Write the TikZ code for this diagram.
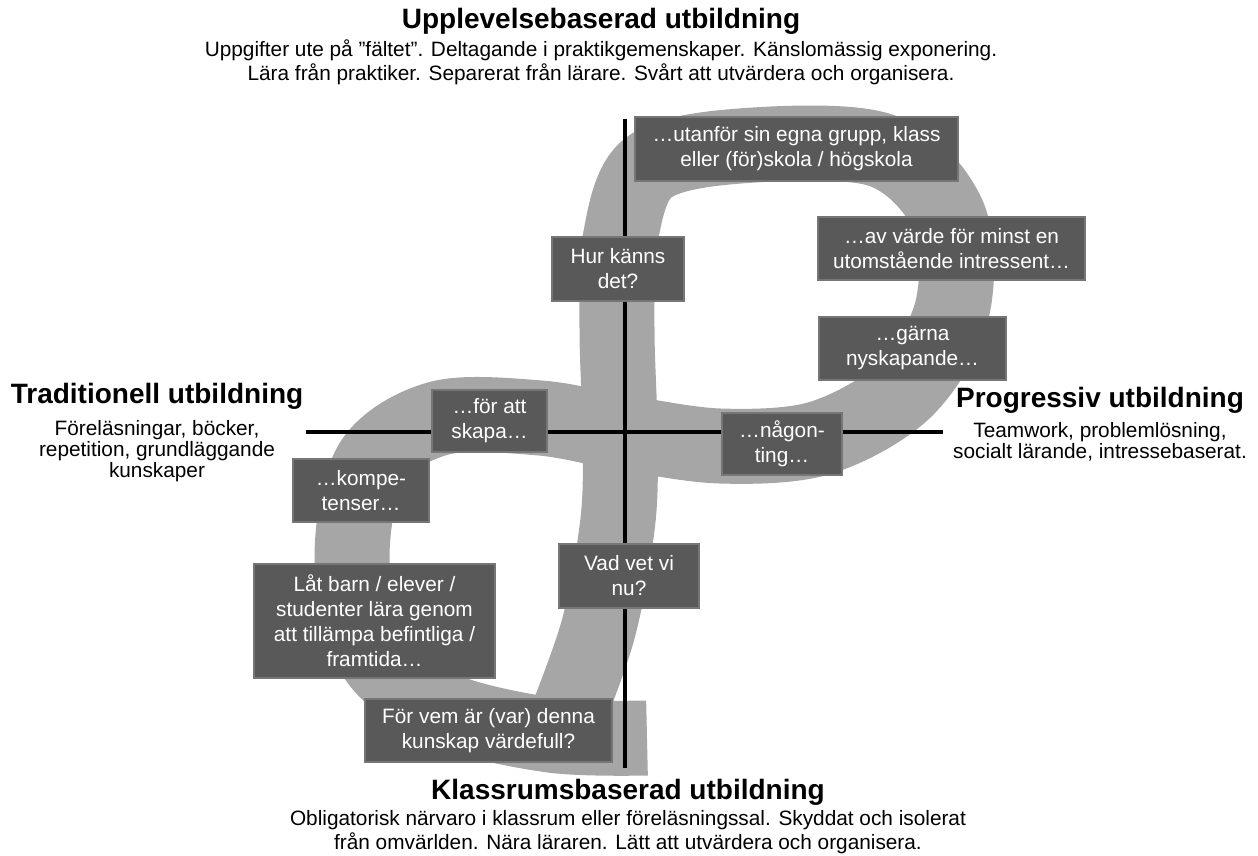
\documentclass[tikz,border=0pt]{standalone}
\usepackage{fontspec}
\setmainfont{Liberation Sans}
\definecolor{ribbongray}{HTML}{A6A6A6}
\definecolor{boxgray}{HTML}{595959}
\definecolor{boxedge}{HTML}{767676}
\begin{document}
\begin{tikzpicture}[x=0.5pt,y=-0.5pt,
  ribbon/.style={draw=ribbongray, line width=37.5pt, line cap=butt, line join=round},
  axis/.style={draw=black, line width=1.8pt},
  tbox/.style={fill=boxgray, draw=boxedge, line width=0.6pt, text=white, align=center,
    inner sep=0pt, font=\fontsize{10.4}{12.5}\selectfont},
  ttl/.style={inner sep=0pt, font=\fontsize{14}{16}\selectfont\bfseries},
  dsc/.style={inner sep=0pt, align=center, font=\fontsize{10.4}{12}\selectfont},
  dscs/.style={inner sep=0pt, align=center, font=\fontsize{10.4}{10.4}\selectfont}
]
\useasboundingbox (0,0) rectangle (1258,856);

% grey ribbon
\draw[ribbon] plot[smooth, tension=0.55] coordinates {
  (560,735) (598,630) (618,520) (620,432) (617,330) (620,240) (648,168)
  (740,146) (880,150) (948,215) (952,310) (905,390) (820,438) (720,446)
  (620,432) (540,418) (440,418) (372,462) (352,557) (372,652) (440,708)
  (550,735) (647,738)};

% axes
\coordinate (vtop) at (625,119);
\coordinate (vbot) at (625,768);
\coordinate (hl) at (306,432);
\coordinate (hr) at (943,432);
\draw[axis] (vtop) -- (vbot);
\draw[axis] (hl) -- (hr);

% boxes
\node[tbox, minimum width=161.5pt, minimum height=32pt] (b1) at (796.5,149)
  {…utanför sin egna grupp, klass\\eller (för)skola / högskola};
\node[tbox, minimum width=66pt, minimum height=32pt] (b2) at (618,269)
  {Hur känns\\det?};
\node[tbox, minimum width=133.5pt, minimum height=31.5pt] (b3) at (951.5,248.5)
  {…av värde för minst en\\utomstående intressent…};
\node[tbox, minimum width=93.5pt, minimum height=31.5pt] (b4) at (912.5,348.5)
  {…gärna\\nyskapande…};
\node[tbox, minimum width=57.5pt, minimum height=31pt] (b5) at (489.5,421)
  {…för att\\skapa…};
\node[tbox, minimum width=68pt, minimum height=31.5pt] (b6) at (361,490.5)
  {…kompe-\\tenser…};
\node[tbox, minimum width=60pt, minimum height=31pt] (b7) at (782,444)
  {…någon-\\ting…};
\node[tbox, minimum width=70pt, minimum height=32pt] (b8) at (629,576)
  {Vad vet vi\\nu?};
\node[tbox, minimum width=120.5pt, minimum height=57pt] (b9) at (374.5,621)
  {Låt barn / elever /\\studenter lära genom\\att tillämpa befintliga /\\framtida…};
\node[tbox, minimum width=123.5pt, minimum height=31.5pt] (b10) at (488.5,730.5)
  {För vem är (var) denna\\kunskap värdefull?};

% axis labels
\node[ttl] (ttop) at (601,21) {Upplevelsebaserad utbildning};
\node[dsc] (dtop) at (601,62) {Uppgifter ute på ”fältet”. Deltagande i praktikgemenskaper. Känslomässig exponering.\\Lära från praktiker. Separerat från lärare. Svårt att utvärdera och organisera.};
\node[ttl] (tleft) at (157,396) {Traditionell utbildning};
\node[dscs] (dleft) at (157,451) {Föreläsningar, böcker,\\repetition, grundläggande\\kunskaper};
\node[ttl] (tright) at (1100,400) {Progressiv utbildning};
\node[dscs] (dright) at (1100,442) {Teamwork, problemlösning,\\socialt lärande, intressebaserat.};
\node[ttl] (tbot) at (628,792) {Klassrumsbaserad utbildning};
\node[dsc] (dbot) at (628,832) {Obligatorisk närvaro i klassrum eller föreläsningssal. Skyddat och isolerat\\från omvärlden. Nära läraren. Lätt att utvärdera och organisera.};
\end{tikzpicture}
\end{document}
